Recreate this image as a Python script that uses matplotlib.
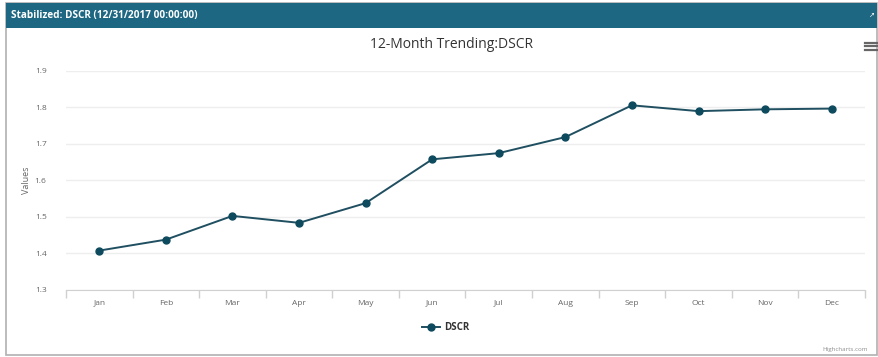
import matplotlib.pyplot as plt
from matplotlib.patches import Rectangle
from matplotlib.lines import Line2D

months = ["Jan", "Feb", "Mar", "Apr", "May", "Jun",
          "Jul", "Aug", "Sep", "Oct", "Nov", "Dec"]
dscr = [1.408, 1.438, 1.503, 1.484, 1.538, 1.658,
        1.675, 1.719, 1.806, 1.790, 1.795, 1.797]
y_ticks = [1.3, 1.4, 1.5, 1.6, 1.7, 1.8, 1.9]

plt.rcParams['font.family'] = ['Open Sans', 'DejaVu Sans']

W, H = 879, 357
fig = plt.figure(figsize=(W / 100, H / 100), dpi=100)

def fx(px):
    return px / W

def fy(py):
    return 1 - py / H

# panel frame and header bar
fig.patches.append(Rectangle((fx(6), fy(355)), fx(871), (352) / H,
                             transform=fig.transFigure, facecolor="none",
                             edgecolor="#b0b0b0", lw=1.2, zorder=0))
fig.patches.append(Rectangle((fx(6), fy(28)), fx(871), 25 / H,
                             transform=fig.transFigure, facecolor="#1d6782",
                             edgecolor="none", zorder=1))
fig.text(fx(11), fy(15.5), "Stabilized: DSCR (12/31/2017 00:00:00)", color="white",
         fontsize=7.2, fontweight="bold", va="center", ha="left")
fig.text(fx(872), fy(15.5), "\u2197", color="white", fontsize=5, va="center", ha="center")

fig.text(fx(452), fy(44), "12-Month Trending:DSCR", fontsize=10, color="#333333",
         ha="center", va="center")
# menu icon
for dy in (-3.5, 0, 3.5):
    fig.add_artist(Line2D([fx(865), fx(877)], [fy(46 + dy)] * 2,
                          transform=fig.transFigure, color="#666666", lw=1.6))

ax = fig.add_axes([fx(66), fy(290), fx(865) - fx(66), fy(71) - fy(290)])
ax.set_zorder(2)
ax.patch.set_alpha(0)
x = list(range(len(months)))
ax.plot(x, dscr, color="#1f4f60", lw=1.4, marker="o", markersize=5,
        markerfacecolor="#0e4a5e", markeredgecolor="#0e4a5e", zorder=3)

ax.set_xlim(-0.5, len(months) - 0.5)
ax.set_ylim(y_ticks[0], y_ticks[-1])
ax.set_yticks(y_ticks)
ax.set_yticklabels([f"{v:.1f}" for v in y_ticks], fontsize=6, color="#666666")
ax.set_xticks(x)
ax.set_xticklabels(months, fontsize=6, color="#666666")
ax.set_xticks([i - 0.5 for i in range(len(months) + 1)], minor=True)
ax.tick_params(axis="x", which="major", length=0, pad=7)
ax.tick_params(axis="x", which="minor", length=6, color="#d0d0d0", width=1)
ax.tick_params(axis="y", length=0, pad=14)
ax.grid(axis="y", color="#eeeeee", lw=1)
ax.set_axisbelow(True)
for side in ("top", "right", "left"):
    ax.spines[side].set_visible(False)
ax.spines["bottom"].set_color("#d0d0d0")
fig.text(fx(27), fy(180), "Values", fontsize=6.5, color="#666666",
         rotation=90, ha="center", va="center")

# legend
fig.add_artist(Line2D([fx(422), fx(440)], [fy(327)] * 2, transform=fig.transFigure,
                      color="#1f4f60", lw=1.4))
fig.add_artist(Line2D([fx(431)], [fy(327)], transform=fig.transFigure,
                      color="#0e4a5e", marker="o", markersize=5, lw=0))
fig.text(fx(444), fy(327), "DSCR", fontsize=7, fontweight="bold", color="#333333",
         va="center", ha="left")
fig.text(fx(868), fy(349), "Highcharts.com", fontsize=4.5, color="#909090",
         va="center", ha="right")

fig.savefig("out.png", dpi=100)
